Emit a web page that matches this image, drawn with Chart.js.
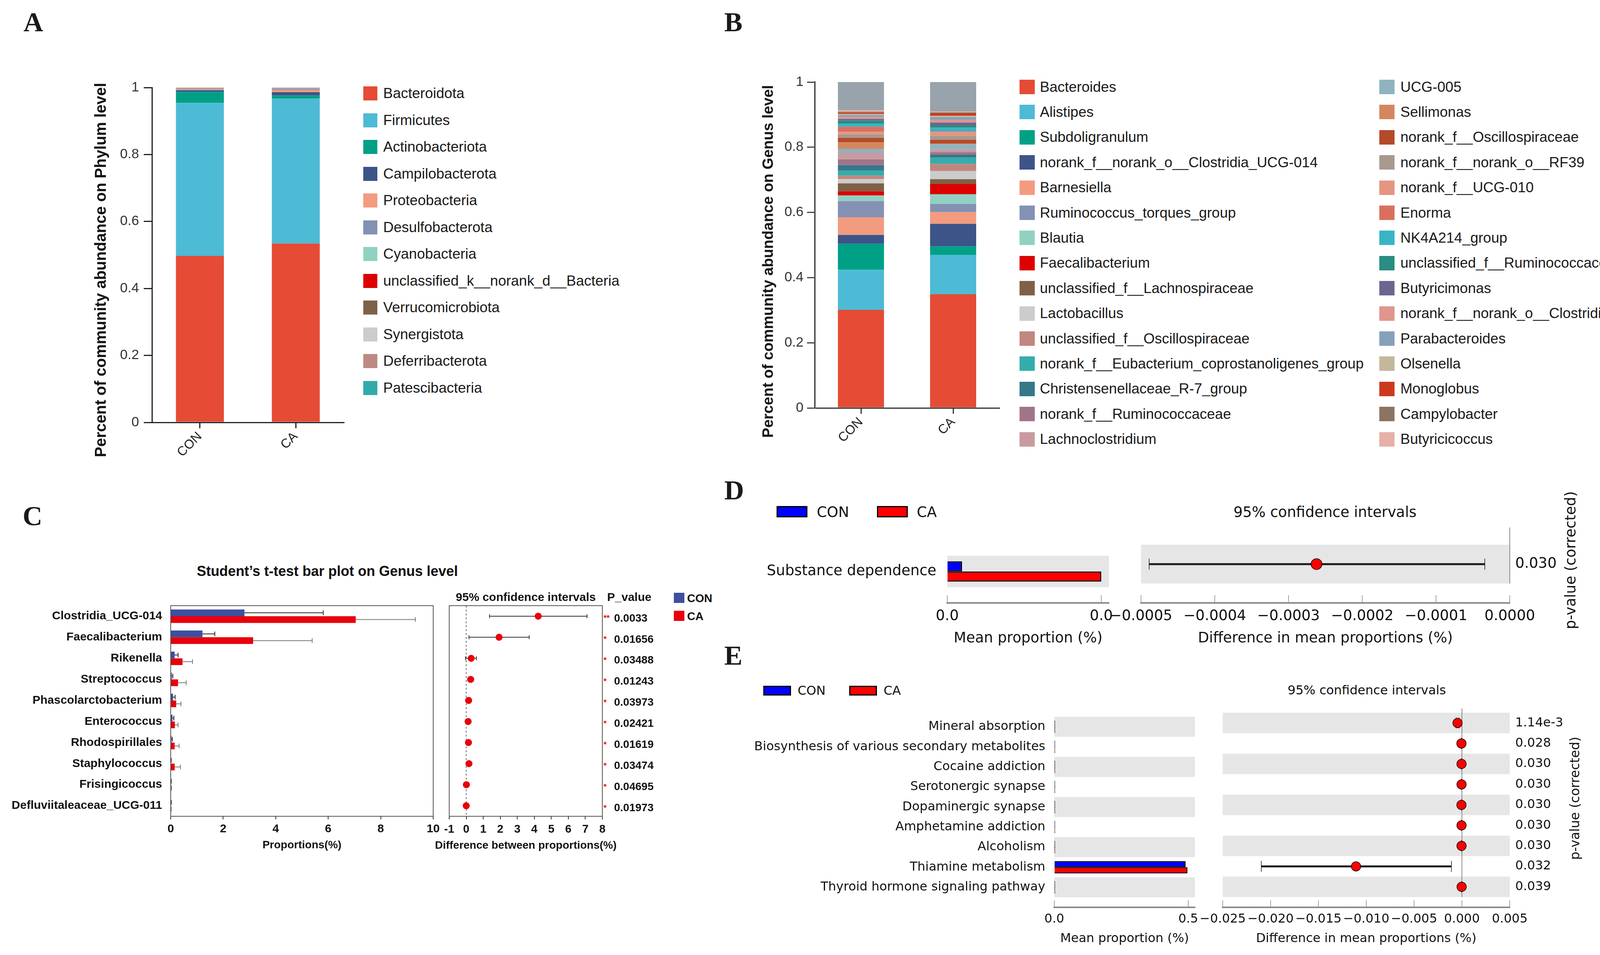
<!DOCTYPE html>
<html>
<head>
<meta charset="utf-8">
<script src="https://cdn.jsdelivr.net/npm/chart.js@4.4.1/dist/chart.umd.min.js"></script>
<style>
  html, body { margin: 0; padding: 0; background: #fff; }
  body { width: 4124px; height: 2444px; position: relative; overflow: hidden; font-family: "Liberation Sans", Arial, sans-serif; color: #1a1a1a; }
  canvas { position: absolute; display: block; }
  .tag { position: absolute; font-family: "Liberation Serif", "Times New Roman", serif; font-weight: bold; font-size: 70px; line-height: 1; }
  .leg { position: absolute; color: #1a1a1a; }
  .leg .row { position: absolute; left: 0; white-space: nowrap; display: flex; align-items: center; }
  .leg .sw { display: inline-block; flex: none; }
  .t { position: absolute; white-space: nowrap; line-height: 1; }
</style>
</head>
<body>
<div class="tag" style="left:60px;top:22px">A</div>
<div class="tag" style="left:1854px;top:22px">B</div>
<div class="tag" style="left:58px;top:1286px">C</div>
<div class="tag" style="left:1854px;top:1220px">D</div>
<div class="tag" style="left:1854px;top:1643px">E</div>
<script>
// ---- A: phylum level ----
const groups = ['CON', 'CA'];
const abundTicks = [0, 0.2, 0.4, 0.6, 0.8, 1];
const abundLabels = ['0', '0.2', '0.4', '0.6', '0.8', '1'];
const phylumNames = ['Bacteroidota', 'Firmicutes', 'Actinobacteriota', 'Campilobacterota', 'Proteobacteria',
  'Desulfobacterota', 'Cyanobacteria', 'unclassified_k__norank_d__Bacteria', 'Verrucomicrobiota',
  'Synergistota', 'Deferribacterota', 'Patescibacteria'];
const phylumColors = ['#e64b35', '#4dbbd5', '#00a087', '#3c5488', '#f39b7f', '#8491b4', '#91d1c2',
  '#dc0000', '#7e6148', '#cccccc', '#bc8a82', '#33aaaa'];
const phylumCON = [0.497, 0.457, 0.033, 0.005, 0.003, 0.002, 0.001, 0.0005, 0.0005, 0.0003, 0.0005, 0.0003];
const phylumCA = [0.534, 0.433, 0.009, 0.010, 0.006, 0.004, 0.001, 0.001, 0.0005, 0.0003, 0.0005, 0.0003];

// ---- B: genus level ----
const genusNames = ['Bacteroides', 'Alistipes', 'Subdoligranulum', 'norank_f__norank_o__Clostridia_UCG-014',
  'Barnesiella', 'Ruminococcus_torques_group', 'Blautia', 'Faecalibacterium', 'unclassified_f__Lachnospiraceae',
  'Lactobacillus', 'unclassified_f__Oscillospiraceae', 'norank_f__Eubacterium_coprostanoligenes_group',
  'Christensenellaceae_R-7_group', 'norank_f__Ruminococcaceae', 'Lachnoclostridium',
  'UCG-005', 'Sellimonas', 'norank_f__Oscillospiraceae', 'norank_f__norank_o__RF39', 'norank_f__UCG-010',
  'Enorma', 'NK4A214_group', 'unclassified_f__Ruminococcaceae', 'Butyricimonas',
  'norank_f__norank_o__Clostridia_vadinBB60_group', 'Parabacteroides', 'Olsenella', 'Monoglobus',
  'Campylobacter', 'Butyricicoccus'];
const genusColors = ['#e64b35', '#4dbbd5', '#00a087', '#3c5488', '#f39b7f', '#8491b4', '#91d1c2', '#dc0000',
  '#7e6148', '#cccccc', '#c0877f', '#33adab', '#357889', '#a0758a', '#c99ba0',
  '#8fb3c0', '#d4875f', '#b54a2a', '#a8998e', '#e69580', '#d9705f', '#38b5c5', '#2a8c82', '#6d6590',
  '#e0958d', '#86a0bb', '#c3b89b', '#cc3a1e', '#8c7462', '#e5b1a8'];
const genusCON = [0.301, 0.123, 0.080, 0.027, 0.054, 0.050, 0.017, 0.013, 0.024, 0.013, 0.011, 0.015, 0.017, 0.018, 0.020,
  0.012, 0.020, 0.014, 0.011, 0.007, 0.016, 0.009, 0.010, 0.005, 0.006, 0.005, 0.004, 0.004, 0.003, 0.004];
const genusCA = [0.349, 0.120, 0.027, 0.069, 0.036, 0.025, 0.030, 0.031, 0.015, 0.025, 0.022, 0.019, 0.009, 0.008, 0.008,
  0.016, 0.002, 0.012, 0.012, 0.012, 0.002, 0.011, 0.007, 0.009, 0.008, 0.008, 0.005, 0.007, 0.003, 0.003];
const genusOthers = [0.087, 0.090];   // CON, CA
const othersColor = '#98a3ab';

// ---- C: t-test on genus ----
const ttestGenus = ['Clostridia_UCG-014', 'Faecalibacterium', 'Rikenella', 'Streptococcus', 'Phascolarctobacterium',
  'Enterococcus', 'Rhodospirillales', 'Staphylococcus', 'Frisingicoccus', 'Defluviitaleaceae_UCG-011'];
const ttestCON = [2.81, 1.21, 0.15, 0.04, 0.09, 0.07, 0.03, 0.01, 0.01, 0.01];
const ttestCONsd = [3.00, 0.47, 0.13, 0.04, 0.08, 0.05, 0.03, 0.01, 0.01, 0.01];
const ttestCA = [7.05, 3.14, 0.45, 0.28, 0.21, 0.16, 0.15, 0.15, 0.02, 0.01];
const ttestCAsd = [2.27, 2.25, 0.38, 0.31, 0.18, 0.12, 0.17, 0.22, 0.01, 0.01];
const ttestDiff = [4.23, 1.93, 0.29, 0.26, 0.14, 0.11, 0.13, 0.16, 0.01, 0.00];
const ttestLo = [1.37, 0.16, -0.04, 0.10, 0.05, 0.05, 0.05, 0.05, 0.00, -0.01];
const ttestHi = [7.10, 3.70, 0.60, 0.42, 0.23, 0.17, 0.21, 0.27, 0.02, 0.01];
const ttestP = ['0.0033', '0.01656', '0.03488', '0.01243', '0.03973', '0.02421', '0.01619', '0.03474', '0.04695', '0.01973'];
const ttestStars = ['**', '*', '*', '*', '*', '*', '*', '*', '*', '*'];
const propTicks = [0, 2, 4, 6, 8, 10];
const diffTicks = [-1, 0, 1, 2, 3, 4, 5, 6, 7, 8];

// ---- D: STAMP, one pathway ----
const dPath = ['Substance dependence'];
const dCON = [0.000048];
const dCA = [0.0005];
const dDiff = [-0.000262];
const dLo = [-0.000489];
const dHi = [-0.0000338];
const dP = ['0.030'];
const dMeanTicks = [0, 0.0005];
const dMeanLabels = ['0.0', '0.0'];
const dDiffTicks = [-0.0005, -0.0004, -0.0003, -0.0002, -0.0001, 0];
const dDiffLabels = ['\u22120.0005', '\u22120.0004', '\u22120.0003', '\u22120.0002', '\u22120.0001', '0.0000'];

// ---- E: STAMP, nine pathways ----
const ePath = ['Mineral absorption', 'Biosynthesis of various secondary metabolites', 'Cocaine addiction',
  'Serotonergic synapse', 'Dopaminergic synapse', 'Amphetamine addiction', 'Alcoholism',
  'Thiamine metabolism', 'Thyroid hormone signaling pathway'];
const eCON = [0.003, 0.003, 0.003, 0.003, 0.003, 0.003, 0.003, 0.490, 0.003];
const eCA = [0.003, 0.003, 0.003, 0.003, 0.003, 0.003, 0.003, 0.497, 0.003];
const eDiff = [-0.00046, -0.00005, -0.00004, -0.00004, -0.00005, -0.00004, -0.00004, -0.01107, -0.00003];
const eLo = [-0.0006, -0.00007, -0.00006, -0.00006, -0.00007, -0.00006, -0.00006, -0.02097, -0.00005];
const eHi = [-0.0003, -0.00003, -0.00002, -0.00002, -0.00003, -0.00002, -0.00002, -0.0011, -0.00001];
const eP = ['1.14e-3', '0.028', '0.030', '0.030', '0.030', '0.030', '0.030', '0.032', '0.039'];
const eMeanTicks = [0, 0.5];
const eMeanLabels = ['0.0', '0.5'];
const eDiffTicks = [-0.025, -0.020, -0.015, -0.010, -0.005, 0, 0.005];
const eDiffLabels = ['\u22120.025', '\u22120.020', '\u22120.015', '\u22120.010', '\u22120.005', '0.000', '0.005'];

// ------------------------------------------------------------
const F = '"Liberation Sans", Arial, sans-serif';
const FD = '"DejaVu Sans", sans-serif';

Chart.defaults.animation = false;
Chart.defaults.responsive = false;
Chart.defaults.devicePixelRatio = 1;
Chart.defaults.font.family = F;
Chart.defaults.color = '#1a1a1a';
Chart.defaults.plugins.legend.display = false;
Chart.defaults.plugins.tooltip.enabled = false;

function mk(left, top, w, h) {
  const c = document.createElement('canvas');
  c.width = w; c.height = h;
  c.style.left = left + 'px'; c.style.top = top + 'px';
  c.style.width = w + 'px'; c.style.height = h + 'px';
  document.body.appendChild(c);
  return c.getContext('2d');
}
const fix = arr => s => { s.ticks = arr.map(v => ({ value: v })); };

function txt(x, y, s, css, ax, rot) {
  const d = document.createElement('div');
  d.className = 't';
  d.textContent = s;
  d.style.cssText += css;
  d.style.left = x + 'px'; d.style.top = y + 'px';
  d.style.transform = 'translate(' + (ax === 'left' ? '0' : '-50%') + ',-50%)' + (rot ? ' rotate(' + rot + 'deg)' : '');
  document.body.appendChild(d);
}
function swatch(x, y, w, h, color, border) {
  const d = document.createElement('div');
  d.style.cssText = 'position:absolute;box-sizing:border-box;left:' + x + 'px;top:' + y + 'px;width:' + w +
    'px;height:' + h + 'px;background:' + color + ';' + (border || '');
  document.body.appendChild(d);
}
function legend(x, y, step, sw, gap, names, colors, size) {
  const box = document.createElement('div');
  box.className = 'leg';
  box.style.left = x + 'px'; box.style.top = y + 'px'; box.style.fontSize = size + 'px';
  names.forEach((n, i) => {
    const r = document.createElement('div');
    r.className = 'row';
    r.style.top = (i * step) + 'px';
    r.style.height = sw[1] + 'px';
    r.innerHTML = '<span class="sw" style="width:' + sw[0] + 'px;height:' + sw[1] + 'px;background:' + colors[i] +
      ';margin-right:' + gap + 'px"></span>' + n;
    box.appendChild(r);
  });
  document.body.appendChild(box);
}

// plugins
const frame = {
  id: 'frame',
  afterDraw(chart, args, o) {
    if (!o.color) return;
    const { left, top, right, bottom } = chart.chartArea;
    const c = chart.ctx;
    c.save(); c.strokeStyle = o.color; c.lineWidth = o.width;
    c.strokeRect(left, top, right - left, bottom - top);
    c.restore();
  }
};
const errBars = {
  id: 'errBars',
  afterDatasetsDraw(chart) {
    const c = chart.ctx, xs = chart.scales.x;
    chart.data.datasets.forEach((ds, di) => {
      if (!ds.err) return;
      chart.getDatasetMeta(di).data.forEach((bar, i) => {
        const x0 = xs.getPixelForValue(ds.data[i]);
        const x1 = xs.getPixelForValue(ds.data[i] + ds.err[i]);
        c.save(); c.strokeStyle = ds.errColor; c.lineWidth = 2;
        c.beginPath();
        c.moveTo(x0, bar.y); c.lineTo(x1, bar.y);
        c.moveTo(x1, bar.y - 6); c.lineTo(x1, bar.y + 6);
        c.stroke(); c.restore();
      });
    });
  }
};
const bands = {
  id: 'bands',
  beforeDatasetsDraw(chart, args, o) {
    if (!o.rows) return;
    const { ctx, chartArea: a, scales: { y } } = chart;
    ctx.save(); ctx.fillStyle = o.color;
    for (let i = 0; i < o.rows; i += 2) {
      const y0 = y.getPixelForValue(i - 0.5), y1 = y.getPixelForValue(i + 0.5);
      ctx.fillRect(a.left, Math.min(y0, y1), a.right - a.left, Math.abs(y1 - y0));
    }
    ctx.restore();
  }
};
const upTicks = {
  id: 'upTicks',
  afterDraw(chart, args, o) {
    if (!o.len) return;
    const { ctx, chartArea: a, scales: { x } } = chart;
    ctx.save(); ctx.strokeStyle = o.color; ctx.lineWidth = 1.5;
    ctx.beginPath();
    x.ticks.forEach(t => {
      const px = x.getPixelForValue(t.value);
      ctx.moveTo(px, a.bottom - 2); ctx.lineTo(px, a.bottom - 2 - o.len);
    });
    ctx.stroke(); ctx.restore();
  }
};
const ci = {
  id: 'ci',
  beforeDatasetsDraw(chart, args, o) {
    if (!o.lo) return;
    const { ctx, scales: { x, y } } = chart;
    ctx.save();
    if (o.zero) {
      const x0 = x.getPixelForValue(0);
      ctx.strokeStyle = o.zero.color; ctx.lineWidth = o.zero.width; ctx.setLineDash(o.zero.dash || []);
      ctx.beginPath();
      ctx.moveTo(x0, y.getPixelForValue(-0.5) - o.zero.above);
      ctx.lineTo(x0, y.getPixelForValue(o.lo.length - 0.5) + o.zero.below);
      ctx.stroke();
      ctx.setLineDash([]);
    }
    ctx.strokeStyle = o.color;
    o.lo.forEach((lo, i) => {
      const py = y.getPixelForValue(i), x1 = x.getPixelForValue(lo), x2 = x.getPixelForValue(o.hi[i]);
      ctx.lineWidth = o.width;
      ctx.beginPath(); ctx.moveTo(x1, py); ctx.lineTo(x2, py); ctx.stroke();
      ctx.lineWidth = o.capWidth;
      ctx.beginPath();
      ctx.moveTo(x1, py - o.cap); ctx.lineTo(x1, py + o.cap);
      ctx.moveTo(x2, py - o.cap); ctx.lineTo(x2, py + o.cap);
      ctx.stroke();
    });
    ctx.restore();
  },
  afterDraw(chart, args, o) {
    const { ctx, chartArea: a, scales: { y } } = chart;
    ctx.save();
    ctx.textBaseline = 'middle';
    if (o.stars) {
      ctx.font = o.starFont; ctx.fillStyle = '#e8000b'; ctx.textAlign = 'left';
      o.stars.forEach((t, i) => ctx.fillText(t, a.right + 3, y.getPixelForValue(i) + 6));
    }
    if (o.pvals) {
      ctx.font = o.pFont; ctx.fillStyle = '#111'; ctx.textAlign = 'left';
      o.pvals.forEach((t, i) => ctx.fillText(t, a.right + o.pDx, y.getPixelForValue(i) + o.pDy));
    }
    if (o.side) {
      const cy = (y.getPixelForValue(-0.5) + y.getPixelForValue(o.pvals.length - 0.5)) / 2 + o.side.dy;
      ctx.translate(a.right + o.side.dx, cy);
      ctx.rotate(-Math.PI / 2);
      ctx.font = o.side.font; ctx.fillStyle = '#111'; ctx.textAlign = 'center';
      ctx.fillText(o.side.text, 0, 0);
      ctx.setTransform(1, 0, 0, 1, 0, 0);
    }
    if (o.heads) {
      ctx.font = o.heads.font; ctx.fillStyle = '#111'; ctx.textAlign = 'center';
      ctx.fillText('95% confidence intervals', (a.left + a.right) / 2, a.top - 20);
      ctx.fillText('P_value', a.right + 69, a.top - 20);
    }
    ctx.restore();
  }
};

// ---- A ----
new Chart(mk(200, 180, 720, 1020), {
  type: 'bar',
  data: {
    labels: groups,
    datasets: phylumNames.map((n, i) => ({
      label: n, data: [phylumCON[i], phylumCA[i]], backgroundColor: phylumColors[i]
    }))
  },
  options: {
    datasets: { bar: { barPercentage: 0.5, categoryPercentage: 1, borderWidth: 0 } },
    layout: { padding: { top: 44, right: 40 } },
    scales: {
      x: {
        stacked: true,
        grid: { drawOnChartArea: false, offset: false, tickLength: 15, color: '#222', lineWidth: 3 },
        border: { color: '#222', width: 3 },
        ticks: { font: { size: 33 }, color: '#222', minRotation: 45, maxRotation: 45, padding: 2 },
        afterFit: s => { s.height = 119; }
      },
      y: {
        stacked: true, min: 0, max: 1,
        afterBuildTicks: fix(abundTicks),
        ticks: { font: { size: 35 }, color: '#333', padding: 12, callback: (v, i) => abundLabels[i] },
        grid: { drawOnChartArea: false, tickLength: 21, color: '#222', lineWidth: 3 },
        border: { color: '#222', width: 3 },
        afterFit: s => { s.width = 189; }
      }
    }
  }
});
txt(257, 691, 'Percent of community abundance on Phylum level', 'font-weight:bold;font-size:40px;color:#111;', 'c', -90);
legend(930, 221, 68.5, [36, 36], 15, phylumNames, phylumColors, 37);

// ---- B ----
const genusSets = genusNames.map((n, i) => ({
  label: n, data: [genusCON[i], genusCA[i]], backgroundColor: genusColors[i]
}));
genusSets.push({ label: 'others', data: genusOthers, backgroundColor: othersColor });
new Chart(mk(1900, 160, 700, 1040), {
  type: 'bar',
  data: { labels: groups, datasets: genusSets },
  options: {
    datasets: { bar: { barPercentage: 0.5, categoryPercentage: 1, borderWidth: 0 } },
    layout: { padding: { top: 50, right: 42 } },
    scales: {
      x: {
        stacked: true,
        grid: { drawOnChartArea: false, offset: false, tickLength: 15, color: '#333', lineWidth: 3 },
        border: { color: '#333', width: 3 },
        ticks: { font: { size: 33 }, color: '#222', minRotation: 45, maxRotation: 45, padding: 2 },
        afterFit: s => { s.height = 156; }
      },
      y: {
        stacked: true, min: 0, max: 1,
        afterBuildTicks: fix(abundTicks),
        ticks: { font: { size: 35 }, color: '#333', padding: 9, callback: (v, i) => abundLabels[i] },
        grid: { drawOnChartArea: false, tickLength: 20, color: '#444', lineWidth: 3 },
        border: { color: '#555', width: 4 },
        afterFit: s => { s.width = 186; }
      }
    }
  }
});
txt(1966, 669, 'Percent of community abundance on Genus level', 'font-weight:bold;font-size:38.5px;color:#111;', 'c', -90);
legend(2610, 204, 64.4, [39, 37], 13, genusNames.slice(0, 15), genusColors.slice(0, 15), 37);
legend(3531, 204, 64.4, [39, 37], 15, genusNames.slice(15), genusColors.slice(15), 37);

// ---- C ----
txt(838, 1462, "Student\u2019s t-test bar plot on Genus level", 'font-weight:bold;font-size:36px;color:#111;');
new Chart(mk(0, 1500, 1140, 700), {
  type: 'bar',
  data: {
    labels: ttestGenus,
    datasets: [
      { label: 'CON', data: ttestCON, backgroundColor: '#3e4f9e', err: ttestCONsd, errColor: '#222' },
      { label: 'CA', data: ttestCA, backgroundColor: '#e8000b', err: ttestCAsd, errColor: '#777' }
    ]
  },
  options: {
    indexAxis: 'y',
    datasets: { bar: { categoryPercentage: 0.64, barPercentage: 1 } },
    layout: { padding: { top: 50, right: 31 } },
    plugins: { frame: { color: '#555', width: 2 } },
    scales: {
      x: {
        min: 0, max: 10, afterBuildTicks: fix(propTicks),
        ticks: { font: { size: 30, weight: 'bold' }, color: '#111', padding: 7 },
        grid: { drawOnChartArea: false, tickLength: 8, color: '#333', lineWidth: 2 },
        border: { color: '#555', width: 2 },
        title: { display: true, text: 'Proportions(%)', color: '#111', font: { size: 28, weight: 'bold' },
          padding: { top: 0, bottom: 20 } },
        afterFit: s => { s.height = 111; }
      },
      y: {
        grid: { display: false }, border: { color: '#555', width: 2 },
        ticks: { font: { size: 30, weight: 'bold' }, color: '#111', padding: 14 },
        afterFit: s => { s.width = 437; }
      }
    }
  },
  plugins: [errBars, frame]
});
new Chart(mk(1115, 1500, 610, 700), {
  type: 'scatter',
  data: { datasets: [{ data: ttestDiff.map((v, i) => ({ x: v, y: i })), backgroundColor: '#e8000b', pointRadius: 9, pointBorderWidth: 0 }] },
  options: {
    layout: { padding: { top: 50, left: 35, right: 183 } },
    plugins: {
      frame: { color: '#555', width: 2 },
      ci: { lo: ttestLo, hi: ttestHi, color: '#333', width: 2, cap: 5, capWidth: 2,
        zero: { color: '#888', width: 2.5, dash: [5, 5], above: 0, below: 0 },
        stars: ttestStars, starFont: 'bold 20px ' + F,
        pvals: ttestP, pFont: 'bold 28px ' + F, pDx: 30, pDy: 6,
        heads: { font: 'bold 30px ' + F } }
    },
    scales: {
      x: {
        min: -1, max: 8, afterBuildTicks: fix(diffTicks),
        ticks: { font: { size: 29, weight: 'bold' }, color: '#111', padding: 9, maxRotation: 0, autoSkip: false },
        grid: { drawOnChartArea: false, tickLength: 8, color: '#333', lineWidth: 2 },
        border: { color: '#555', width: 2 },
        afterFit: s => { s.height = 111; }
      },
      y: { display: false, reverse: true, min: -0.5, max: 9.5 }
    }
  },
  plugins: [frame, ci]
});
// wider than its axis, so kept outside the canvas title (Chart.js would squeeze it)
txt(1346, 2163, 'Difference between proportions(%)', 'font-weight:bold;font-size:28px;color:#111;');
swatch(1725, 1517, 27, 26, '#3e4f9e');
swatch(1725, 1563, 27, 26, '#e8000b');
txt(1759, 1531, 'CON', 'font-weight:bold;font-size:29px;color:#111;', 'left');
txt(1759, 1577, 'CA', 'font-weight:bold;font-size:29px;color:#111;', 'left');

// ---- D / E (STAMP style) ----
function stampMeans(pos, names, con, ca, ticks, labels, s) {
  new Chart(mk(pos[0], pos[1], pos[2], pos[3]), {
    type: 'bar',
    data: {
      datasets: [
        { label: 'CON', data: con.map((v, i) => ({ x: v, y: i })), backgroundColor: '#0000ff' },
        { label: 'CA', data: ca.map((v, i) => ({ x: v, y: i })), backgroundColor: '#ff0000' }
      ]
    },
    options: {
      indexAxis: 'y',
      datasets: { bar: { borderColor: '#000', borderWidth: s.bw, categoryPercentage: s.cat, barPercentage: 1 } },
      layout: { padding: s.pad },
      plugins: { bands: { rows: names.length, color: '#e6e6e6' }, upTicks: { len: s.tick, color: '#888' } },
      scales: {
        x: {
          min: 0, max: s.xmax, afterBuildTicks: fix(ticks),
          ticks: { callback: (v, i) => labels[i], font: { family: FD, size: s.fs }, color: '#111', padding: s.tp,
            maxRotation: 0, autoSkip: false },
          grid: { drawOnChartArea: false, drawTicks: false }, border: { color: '#8a8a8a', width: 4 },
          title: { display: true, text: 'Mean proportion (%)', color: '#111', font: { family: FD, size: s.fs },
            padding: { top: 0, bottom: s.tb } },
          afterFit: a => { a.height = s.xh; }
        },
        y: {
          type: 'linear', reverse: true, offset: false, min: -0.5, max: s.ymax,
          afterBuildTicks: fix(names.map((n, i) => i)),
          ticks: { callback: v => names[v], font: { family: FD, size: s.fs }, color: '#111', padding: s.lp, autoSkip: false },
          grid: { display: false }, border: { display: false },
          afterFit: a => { a.width = s.yw; }
        }
      }
    },
    plugins: [bands, upTicks]
  });
}
function stampDiff(pos, names, diff, lo, hi, pv, ticks, labels, s) {
  new Chart(mk(pos[0], pos[1], pos[2], pos[3]), {
    type: 'scatter',
    data: { datasets: [{ data: diff.map((v, i) => ({ x: v, y: i })), backgroundColor: '#ff0000', borderColor: '#000',
      pointBorderWidth: 1.5, pointRadius: s.r }] },
    options: {
      layout: { padding: s.pad },
      plugins: {
        bands: { rows: names.length, color: '#e6e6e6' },
        upTicks: { len: s.tick, color: '#888' },
        ci: { lo: lo, hi: hi, color: '#1a1a1a', width: 5, cap: s.cap, capWidth: 1.5,
          zero: { color: '#666', width: 1.5, above: s.zAbove, below: 0 },
          pvals: pv, pFont: s.fs + 'px ' + FD, pDx: 14, pDy: 0,
          side: { text: 'p-value (corrected)', dx: s.sideDx, dy: s.sideDy, font: s.sideFs + 'px ' + FD } }
      },
      scales: {
        x: {
          min: ticks[0], max: ticks[ticks.length - 1], afterBuildTicks: fix(ticks),
          ticks: { callback: (v, i) => labels[i], font: { family: FD, size: s.fs }, color: '#111', padding: s.tp,
            maxRotation: 0, autoSkip: false },
          grid: { drawOnChartArea: false, drawTicks: false }, border: { color: '#8a8a8a', width: 4 },
          title: { display: true, text: 'Difference in mean proportions (%)', color: '#111', font: { family: FD, size: s.fs },
            padding: { top: 0, bottom: s.tb } },
          afterFit: a => { a.height = s.xh; }
        },
        y: { display: false, reverse: true, min: -0.5, max: s.ymax }
      }
    },
    plugins: [bands, upTicks, ci]
  });
}

// D
swatch(1988, 1295, 79, 29, '#0000ff', 'border:3px solid #000;');
swatch(2245, 1295, 79, 29, '#ff0000', 'border:3px solid #000;');
txt(2091, 1310, 'CON', 'font-family:' + FD + ';font-size:37px;color:#111;', 'left');
txt(2347, 1310, 'CA', 'font-family:' + FD + ';font-size:37px;color:#111;', 'left');
txt(3392, 1310, '95% confidence intervals', 'font-family:' + FD + ';font-size:37px;color:#111;');
stampMeans([1960, 1380, 960, 300], dPath, dCON, dCA, dMeanTicks, dMeanLabels,
  { bw: 3, cat: 0.43, pad: { top: 14, right: 81 }, fs: 37, tp: 12, tb: 23, xh: 137, yw: 465, lp: 20,
    xmax: 0.000525, ymax: 1.0, tick: 18 });
stampDiff([2820, 1240, 1304, 440], dPath, dDiff, dLo, dHi, dP, dDiffTicks, dDiffLabels,
  { r: 14, cap: 14, pad: { top: 154, left: 101, right: 259 }, fs: 37, tp: 12, tb: 23, xh: 137, ymax: 1.0, tick: 18,
    zAbove: 44, sideDx: 158, sideDy: -10, sideFs: 37 });

// E
swatch(1954, 1755, 71, 25, '#0000ff', 'border:3px solid #000;');
swatch(2174, 1755, 71, 25, '#ff0000', 'border:3px solid #000;');
txt(2042, 1767, 'CON', 'font-family:' + FD + ';font-size:32px;color:#111;', 'left');
txt(2262, 1767, 'CA', 'font-family:' + FD + ';font-size:32px;color:#111;', 'left');
txt(3499, 1766, '95% confidence intervals', 'font-family:' + FD + ';font-size:32px;color:#111;');
stampMeans([1920, 1800, 1220, 644], ePath, eCON, eCA, eMeanTicks, eMeanLabels,
  { bw: 2.5, cat: 0.61, pad: { top: 24, right: 81 }, fs: 32, tp: 11, tb: 22, xh: 122, yw: 779, lp: 15,
    xmax: 0.525, ymax: 9.0, tick: 16 });
stampDiff([3060, 1800, 1064, 644], ePath, eDiff, eLo, eHi, eP, eDiffTicks, eDiffLabels,
  { r: 12, cap: 14, pad: { top: 24, left: 70, right: 259 }, fs: 32, tp: 11, tb: 22, xh: 122, ymax: 9.0, tick: 16,
    zAbove: 11, sideDx: 169, sideDy: -17, sideFs: 33 });
</script>
</body>
</html>
